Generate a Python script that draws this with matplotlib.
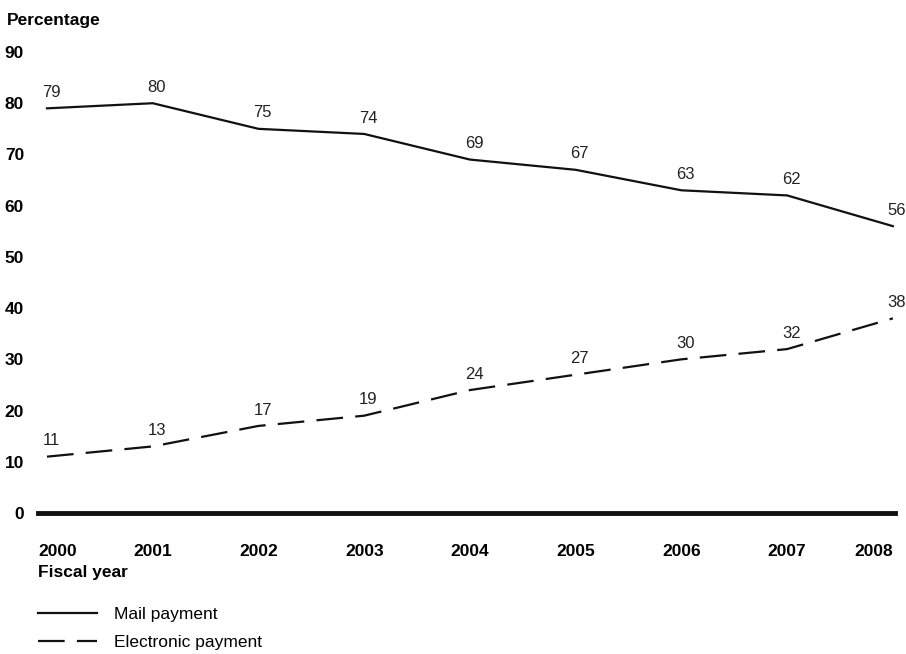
import matplotlib
matplotlib.use("Agg")
import matplotlib.pyplot as plt
from matplotlib.transforms import ScaledTranslation

years = [2000, 2001, 2002, 2003, 2004, 2005, 2006, 2007, 2008]
mail_payment = [79, 80, 75, 74, 69, 67, 63, 62, 56]
electronic_payment = [11, 13, 17, 19, 24, 27, 30, 32, 38]
y_ticks = [0, 10, 20, 30, 40, 50, 60, 70, 80, 90]

plt.rcParams["font.family"] = ["Liberation Sans", "DejaVu Sans"]

fig = plt.figure(figsize=(9.06, 6.54), dpi=100)
ax = fig.add_axes([38 / 906, 1 - 513 / 654, (895 - 38) / 906, (513 - 52) / 654])

ax.plot(years, mail_payment, color="#111111", linewidth=1.6, label="Mail payment")
ax.plot(years, electronic_payment, color="#111111", linewidth=1.6,
        dashes=(12, 5.5), label="Electronic payment")

# value labels above each point
for series in (mail_payment, electronic_payment):
    for x, v in zip(years, series):
        ax.annotate(str(v), (x, v), xytext=(3, 6), textcoords="offset points",
                    ha="center", va="bottom", fontsize=12, color="#222222")

# thick baseline at zero
ax.axhline(0, color="#111111", linewidth=3.5, clip_on=False)

ax.set_xlim(2000 - 0.085, 2008 + 0.02)
ax.set_ylim(0, 90)
ax.set_yticks(y_ticks)
ax.set_xticks(years)
ax.set_xticklabels([str(y) for y in years], fontsize=12.5, fontweight="bold")
ax.set_yticklabels([str(t) for t in y_ticks], fontsize=12.5, fontweight="bold")
ax.tick_params(axis="both", length=0)
ax.tick_params(axis="y", pad=10)
ax.tick_params(axis="x", pad=22)
labels = ax.get_xticklabels()
labels[0].set_horizontalalignment("left")
labels[0].set_transform(labels[0].get_transform()
                        + ScaledTranslation(-9 / 100, 0, fig.dpi_scale_trans))
labels[-1].set_horizontalalignment("right")
for s in ax.spines.values():
    s.set_visible(False)

fig.text(7 / 906, 1 - 21 / 654, "Percentage", fontsize=12.5, fontweight="bold",
         va="center", ha="left")
fig.text(38 / 906, 1 - 572 / 654, "Fiscal year", fontsize=12.5, fontweight="bold",
         va="center", ha="left")

fig.legend(loc="upper left", bbox_to_anchor=(38 / 906, 1 - 607 / 654), frameon=False,
           borderaxespad=0, borderpad=0, handlelength=3.4, handletextpad=1.0,
           labelspacing=0.75, fontsize=12.5)

fig.savefig("out.png", dpi=100)
